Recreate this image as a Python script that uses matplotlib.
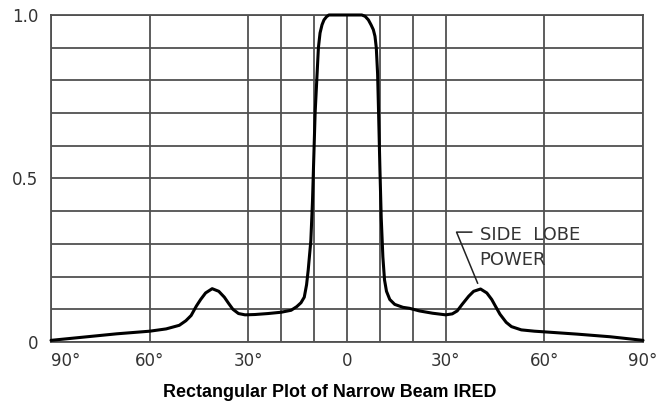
import matplotlib
matplotlib.use("Agg")
import matplotlib.pyplot as plt

# beam angle (deg, negative = left side) vs relative power
angle = [-90, -80, -70, -60, -55, -51, -49, -47.4, -45.8, -44.5, -43, -41, -39,
         -37.3, -36, -34.7, -33, -31, -28, -24, -20, -17, -15.3, -14, -13,
         -12.3, -11.8, -11, -10.5, -9.7, -9.2, -8.7, -8.2, -7.6, -7.0, -6.2,
         -5.5, 0, 4.5, 5.5, 6.5, 7.3, 8.0, 8.5, 8.9, 9.3, 9.6, 10, 10.4, 10.9,
         11.4, 12.0, 13.0, 14.5, 17, 19, 22, 26, 30, 32, 33.5, 35, 37, 38.5,
         40.6, 42.5, 44, 45.1, 46.5, 48.4, 50, 53, 57, 60, 70, 80, 90]
power = [0.005, 0.015, 0.025, 0.033, 0.04, 0.051, 0.065, 0.081, 0.11, 0.13,
         0.15, 0.163, 0.155, 0.137, 0.118, 0.10, 0.087, 0.083, 0.084, 0.087,
         0.091, 0.097, 0.108, 0.12, 0.137, 0.175, 0.22, 0.31, 0.43, 0.70,
         0.80, 0.90, 0.945, 0.97, 0.985, 0.995, 1.0, 1.0, 1.0, 0.996, 0.985,
         0.97, 0.955, 0.935, 0.90, 0.82, 0.70, 0.53, 0.38, 0.26, 0.19, 0.155,
         0.13, 0.115, 0.106, 0.103, 0.095, 0.088, 0.083, 0.086, 0.095, 0.115,
         0.14, 0.155, 0.162, 0.15, 0.13, 0.11, 0.085, 0.06, 0.047, 0.037,
         0.033, 0.031, 0.024, 0.016, 0.005]

x_grid = [-90, -60, -30, -20, -10, 0, 10, 20, 30, 60, 90]
y_grid = [i / 10 for i in range(11)]
x_ticks = [-90, -60, -30, 0, 30, 60, 90]
x_labels = ["90°", "60°", "30°", "0", "30°", "60°", "90°"]
y_ticks = [0, 0.5, 1.0]
y_labels = ["0", "0.5", "1.0"]

grid_col = "#505050"
text_col = "#333333"

fig = plt.figure(figsize=(6.66, 4.04), dpi=100)
ax = fig.add_axes([0.0766, 0.1535, 0.8889, 0.8094])

for g in x_grid:
    ax.axvline(g, color=grid_col, lw=1.3, zorder=1)
for g in y_grid:
    ax.axhline(g, color=grid_col, lw=1.3, zorder=1)

ax.plot(angle, power, color="black", lw=2.2, solid_joinstyle="round",
        solid_capstyle="round", zorder=3, clip_on=False)

# side lobe callout
ax.text(40.3, 0.312, "SIDE  LOBE", fontsize=13, color=text_col)
ax.text(40.3, 0.235, "POWER", fontsize=13, color=text_col)
ax.plot([37.9, 33.3, 39.7], [0.336, 0.336, 0.180], color="#222222", lw=1.1,
        zorder=3)

ax.set_xlim(-90, 90)
ax.set_ylim(0, 1.0)
ax.set_xticks(x_ticks)
ax.set_xticklabels(x_labels, fontsize=12, color=text_col)
ax.set_yticks(y_ticks)
ax.set_yticklabels(y_labels, fontsize=12, color=text_col)
ax.tick_params(length=0, pad=9)
ax.tick_params(axis="x", pad=7)
ax.get_xticklabels()[0].set_ha("left")
for s in ax.spines.values():
    s.set_color(grid_col)
    s.set_linewidth(1.3)

fig.text(0.4955, 0.0173, "Rectangular Plot of Narrow Beam IRED",
         ha="center", va="baseline", fontsize=12.9, fontweight="bold",
         family=["Liberation Sans", "DejaVu Sans"])

fig.savefig("out.png", dpi=100)
